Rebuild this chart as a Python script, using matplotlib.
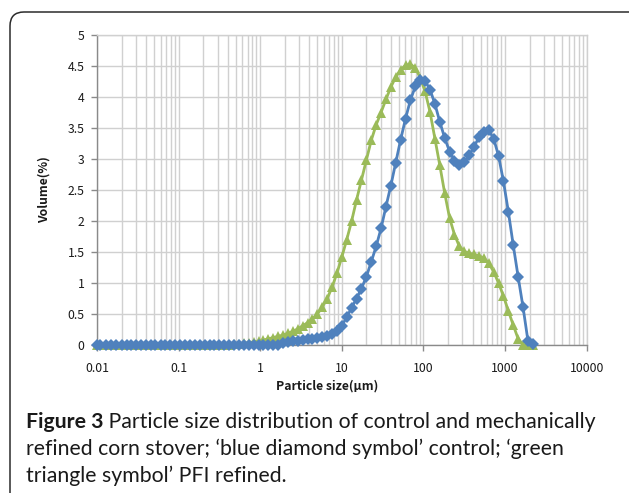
import matplotlib
matplotlib.use("Agg")
import matplotlib.pyplot as plt
import numpy as np
from matplotlib.patches import FancyBboxPatch
from matplotlib.transforms import IdentityTransform
from matplotlib.ticker import FixedLocator, FixedFormatter, NullFormatter, LogLocator

# ---------------- data ----------------
particle_size_um = [0.010, 0.011, 0.013, 0.015, 0.017, 0.020, 0.023, 0.026, 0.030, 0.035,
                    0.040, 0.046, 0.052, 0.060, 0.069, 0.079, 0.091, 0.105, 0.120, 0.138,
                    0.158, 0.182, 0.209, 0.240, 0.275, 0.316, 0.363, 0.417, 0.479, 0.550,
                    0.631, 0.724, 0.832, 0.955, 1.096, 1.259, 1.445, 1.660, 1.905, 2.188,
                    2.512, 2.884, 3.311, 3.802, 4.365, 5.012, 5.754, 6.607, 7.586, 8.710,
                    10.000, 11.482, 13.183, 15.136, 17.378, 19.953, 22.909, 26.303, 30.200, 34.674,
                    39.811, 45.709, 52.481, 60.256, 69.183, 79.433, 91.201, 104.713, 120.226, 138.038,
                    158.489, 181.970, 208.930, 239.883, 275.423, 316.228, 363.078, 416.869, 478.630, 549.541,
                    630.957, 724.436, 831.764, 954.993, 1096.478, 1258.925, 1445.440, 1659.587, 1905.461, 2187.762]

control_volume = [0, 0, 0, 0, 0, 0, 0, 0, 0, 0,
                  0, 0, 0, 0, 0, 0, 0, 0, 0, 0,
                  0, 0, 0, 0, 0, 0, 0, 0, 0, 0,
                  0, 0, 0, 0, 0, 0, 0, 0, 0.04, 0.05,
                  0.06, 0.07, 0.08, 0.09, 0.10, 0.11, 0.13, 0.15, 0.18, 0.23,
                  0.31, 0.45, 0.60, 0.75, 0.91, 1.10, 1.34, 1.59, 1.88, 2.23,
                  2.57, 2.94, 3.31, 3.65, 3.95, 4.17, 4.27, 4.26, 4.12, 3.89,
                  3.60, 3.34, 3.12, 2.97, 2.90, 2.95, 3.06, 3.20, 3.35, 3.44,
                  3.46, 3.33, 3.05, 2.64, 2.15, 1.61, 1.10, 0.61, 0.07, 0.01]

pfi_volume = [0, 0, 0, 0, 0, 0, 0, 0, 0, 0,
              0, 0, 0, 0, 0, 0, 0, 0, 0, 0,
              0, 0, 0, 0, 0, 0, 0, 0, 0.01, 0.02,
              0.03, 0.04, 0.05, 0.06, 0.08, 0.10, 0.12, 0.14, 0.16, 0.19,
              0.22, 0.26, 0.31, 0.36, 0.42, 0.50, 0.61, 0.75, 0.93, 1.16,
              1.42, 1.70, 2.00, 2.34, 2.66, 2.98, 3.30, 3.55, 3.75, 3.96,
              4.16, 4.32, 4.44, 4.51, 4.53, 4.47, 4.31, 4.09, 3.76, 3.33,
              2.90, 2.45, 2.05, 1.78, 1.59, 1.51, 1.48, 1.46, 1.44, 1.40,
              1.32, 1.18, 1.00, 0.79, 0.55, 0.32, 0.10, 0.0, 0.0, 0.0]

x_ticks = [0.01, 0.1, 1, 10, 100, 1000, 10000]
x_tick_labels = ["0.01", "0.1", "1", "10", "100", "1000", "10000"]
y_ticks = [0, 0.5, 1, 1.5, 2, 2.5, 3, 3.5, 4, 4.5, 5]
y_tick_labels = ["0", "0.5", "1", "1.5", "2", "2.5", "3", "3.5", "4", "4.5", "5"]

x_label = "Particle size(μm)"
y_label = "Volume(%)"
caption_bold = "Figure 3"
caption_line1 = " Particle size distribution of control and mechanically"
caption_line2 = "refined corn stover; ‘blue diamond symbol’ control; ‘green"
caption_line3 = "triangle symbol’ PFI refined."

# ---------------- figure ----------------
W, H = 629, 493
fig = plt.figure(figsize=(W / 100, H / 100), dpi=100)
fig.patch.set_facecolor("white")

chart_font = ["Noto Sans CJK KR", "DejaVu Sans"]
cap_font = ["Lato", "DejaVu Sans"]

# rounded frame
frame = FancyBboxPatch((10, -60), 700, H - 12 + 60,
                       boxstyle="round,pad=0,rounding_size=14",
                       transform=IdentityTransform(), facecolor="none",
                       edgecolor="#2b2b2b", linewidth=1.1, zorder=-5)
fig.patches.append(frame)

left_px, right_px, top_px, bot_px = 97, 586.7, 35, 345
ax = fig.add_axes([left_px / W, 1 - bot_px / H, (right_px - left_px) / W, (bot_px - top_px) / H])
ax.set_facecolor("none")
ax.set_xscale("log")
ax.set_xlim(0.01, 10000)
ax.set_ylim(0, 5)

grid_c = "#d0d0d0"
axis_c = "#8a8a8a"
ax.xaxis.set_major_locator(FixedLocator(x_ticks))
ax.xaxis.set_major_formatter(FixedFormatter(x_tick_labels))
ax.xaxis.set_minor_locator(LogLocator(base=10, subs=range(2, 10), numticks=50))
ax.xaxis.set_minor_formatter(NullFormatter())
ax.yaxis.set_major_locator(FixedLocator(y_ticks))
ax.yaxis.set_major_formatter(FixedFormatter(y_tick_labels))

ax.grid(True, which="major", axis="both", color=grid_c, linewidth=1.0, zorder=0)
ax.grid(True, which="minor", axis="x", color=grid_c, linewidth=1.0, zorder=0)
ax.set_axisbelow(True)

for s in ["top", "right"]:
    ax.spines[s].set_color(grid_c)
    ax.spines[s].set_linewidth(1.0)
for s in ["left", "bottom"]:
    ax.spines[s].set_color(axis_c)
    ax.spines[s].set_linewidth(1.0)

ax.tick_params(axis="both", which="major", direction="out", length=4, width=1.0,
               color=axis_c, labelsize=8.8, labelcolor="#1a1a1a")
ax.tick_params(axis="x", which="major", pad=8)
ax.tick_params(axis="y", which="major", pad=5)
ax.tick_params(axis="x", which="minor", length=0)
for lab in ax.get_xticklabels() + ax.get_yticklabels():
    lab.set_family(chart_font)

ax.plot(particle_size_um, pfi_volume, color="#9BBB59", marker="^", markersize=7.2,
        markeredgewidth=0, linewidth=2.0, clip_on=False, zorder=3)
ax.plot(particle_size_um, control_volume, color="#4F81BD", marker="D", markersize=6.0,
        markeredgewidth=0, linewidth=2.0, clip_on=False, zorder=4)

fig.text(327 / W, 1 - 386 / H, x_label, ha="center", va="center", fontsize=8.8,
         fontweight="bold", family=chart_font, color="#1a1a1a")
fig.text(44 / W, 1 - 190 / H, y_label, ha="center", va="center", fontsize=8.8,
         fontweight="bold", family=chart_font, rotation=90, color="#1a1a1a")

# caption
renderer = fig.canvas.get_renderer()
cap_x = 26
base_size = 14.0
tb = fig.text(cap_x / W, 1 - 428 / H, caption_bold, ha="left", va="baseline",
              fontsize=base_size, fontweight="bold", family=cap_font, color="#1a1a1a")
tr = fig.text(0, 1 - 428 / H, caption_line1, ha="left", va="baseline",
              fontsize=base_size, family=cap_font, color="#1a1a1a")
wb = tb.get_window_extent(renderer).width
wr = tr.get_window_extent(renderer).width
scale = (598 - cap_x) / (wb + wr)
size = base_size * scale
tb.set_fontsize(size)
tr.set_fontsize(size)
wb = tb.get_window_extent(renderer).width
tr.set_x((cap_x + wb) / W)
fig.text(cap_x / W, 1 - 455 / H, caption_line2, ha="left", va="baseline",
         fontsize=size, family=cap_font, color="#1a1a1a")
fig.text(cap_x / W, 1 - 482 / H, caption_line3, ha="left", va="baseline",
         fontsize=size, family=cap_font, color="#1a1a1a")

fig.savefig("out.png", dpi=100, facecolor="white")
